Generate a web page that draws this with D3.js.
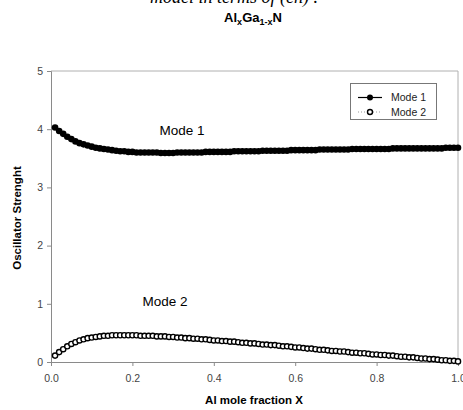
<!DOCTYPE html>
<html>
<head>
<meta charset="utf-8">
<script src="https://cdn.jsdelivr.net/npm/d3@7"></script>
<style>
  body { margin: 0; background: #fff; }
  text { font-family: "Liberation Sans", Arial, sans-serif; }
</style>
</head>
<body>
<script>
// Al mole fraction x, 0.01 .. 1.00
var xValues = [0.01,0.02,0.03,0.04,0.05,0.06,0.07,0.08,0.09,0.10,
  0.11,0.12,0.13,0.14,0.15,0.16,0.17,0.18,0.19,0.20,
  0.21,0.22,0.23,0.24,0.25,0.26,0.27,0.28,0.29,0.30,
  0.31,0.32,0.33,0.34,0.35,0.36,0.37,0.38,0.39,0.40,
  0.41,0.42,0.43,0.44,0.45,0.46,0.47,0.48,0.49,0.50,
  0.51,0.52,0.53,0.54,0.55,0.56,0.57,0.58,0.59,0.60,
  0.61,0.62,0.63,0.64,0.65,0.66,0.67,0.68,0.69,0.70,
  0.71,0.72,0.73,0.74,0.75,0.76,0.77,0.78,0.79,0.80,
  0.81,0.82,0.83,0.84,0.85,0.86,0.87,0.88,0.89,0.90,
  0.91,0.92,0.93,0.94,0.95,0.96,0.97,0.98,0.99,1.00];

var mode1 = [4.03,3.97,3.92,3.87,3.83,3.79,3.76,3.74,3.72,3.70,
  3.68,3.67,3.66,3.65,3.64,3.63,3.62,3.62,3.61,3.61,
  3.60,3.60,3.60,3.60,3.60,3.60,3.59,3.59,3.59,3.59,
  3.60,3.60,3.60,3.60,3.60,3.60,3.60,3.61,3.61,3.61,
  3.61,3.61,3.61,3.61,3.62,3.62,3.62,3.62,3.62,3.62,
  3.62,3.63,3.63,3.63,3.63,3.63,3.63,3.63,3.64,3.64,
  3.64,3.64,3.64,3.64,3.64,3.65,3.65,3.65,3.65,3.65,
  3.65,3.65,3.65,3.66,3.66,3.66,3.66,3.66,3.66,3.66,
  3.66,3.66,3.66,3.67,3.67,3.67,3.67,3.67,3.67,3.67,
  3.67,3.67,3.67,3.67,3.67,3.67,3.68,3.68,3.68,3.68];

var mode2 = [0.11,0.17,0.22,0.27,0.31,0.34,0.37,0.39,0.41,0.42,
  0.43,0.44,0.45,0.45,0.46,0.46,0.46,0.46,0.46,0.46,
  0.46,0.45,0.45,0.45,0.45,0.44,0.44,0.44,0.43,0.43,
  0.42,0.42,0.41,0.41,0.40,0.40,0.39,0.39,0.38,0.37,
  0.37,0.36,0.36,0.35,0.35,0.34,0.33,0.33,0.32,0.32,
  0.31,0.30,0.30,0.29,0.29,0.28,0.27,0.27,0.26,0.25,
  0.25,0.24,0.23,0.23,0.22,0.21,0.21,0.20,0.19,0.19,
  0.18,0.18,0.17,0.16,0.16,0.15,0.15,0.14,0.13,0.13,
  0.12,0.12,0.11,0.11,0.10,0.09,0.09,0.08,0.08,0.07,
  0.06,0.06,0.05,0.05,0.04,0.03,0.03,0.02,0.02,0.01];

var xTicks = [0, 0.2, 0.4, 0.6, 0.8, 1.0];
var yTicks = [0, 1, 2, 3, 4, 5];
var seriesNames = ["Mode 1", "Mode 2"];

var width = 463;
var height = 410;

var plotLeft = 51, plotRight = 458, plotTop = 71, plotBottom = 362;

var svg = d3.select("body")
            .append("svg")
            .attr("width", width)
            .attr("height", height);

var xScale = d3.scaleLinear()
               .domain([0, 1])
               .range([plotLeft, plotRight]);

var yScale = d3.scaleLinear()
               .domain([0, 5])
               .range([plotBottom, plotTop]);

// cut-off text line from the page above the figure
svg.append("text")
   .attr("x", 234)
   .attr("y", 3)
   .attr("text-anchor", "middle")
   .style("font-family", "'Liberation Serif', 'Times New Roman', serif")
   .style("font-style", "italic")
   .style("font-size", "18px")
   .text("model in terms of (eh) .");

// title Al_xGa_1-x N
var title = svg.append("text")
   .attr("x", 253)
   .attr("y", 22)
   .attr("text-anchor", "middle")
   .style("font-weight", "bold")
   .style("font-size", "13px");
title.append("tspan").text("Al");
title.append("tspan").attr("dy", 3).style("font-size", "9px").text("x");
title.append("tspan").attr("dy", -3).text("Ga");
title.append("tspan").attr("dy", 3).style("font-size", "9px").text("1-x");
title.append("tspan").attr("dy", -3).text("N");

// frame (top and right)
svg.append("path")
   .attr("d", "M" + plotLeft + "," + plotTop + "H" + plotRight + "V" + plotBottom)
   .attr("fill", "none")
   .attr("stroke", "#b0b0b0")
   .attr("stroke-width", 1);

var xAxis = d3.axisBottom(xScale)
              .tickValues(xTicks)
              .tickSize(4)
              .tickFormat(d3.format(".1f"));

var yAxis = d3.axisLeft(yScale)
              .tickValues(yTicks)
              .tickSize(4)
              .tickFormat(d3.format("d"));

var gx = svg.append("g")
   .attr("transform", "translate(0," + plotBottom + ")")
   .call(xAxis);

var gy = svg.append("g")
   .attr("transform", "translate(" + plotLeft + ",0)")
   .call(yAxis);

[gx, gy].forEach(function(g) {
  g.select(".domain").attr("stroke", "#8a8a8a");
  g.selectAll(".tick line").attr("stroke", "#8a8a8a");
  g.selectAll(".tick text")
   .attr("fill", "#444")
   .style("font-size", "10.5px")
   .style("font-family", "'Liberation Sans', Arial, sans-serif");
});
gx.selectAll(".tick text").attr("dy", "1.2em");
gy.selectAll(".tick text").attr("x", -8);

// axis titles
svg.append("text")
   .attr("x", 254)
   .attr("y", 404)
   .attr("text-anchor", "middle")
   .style("font-weight", "bold")
   .style("font-size", "11.5px")
   .text("Al mole fraction X");

svg.append("text")
   .attr("transform", "translate(21,218) rotate(-90)")
   .attr("text-anchor", "middle")
   .style("font-weight", "bold")
   .style("font-size", "11.5px")
   .text("Oscillator Strenght");

// series
var pts1 = xValues.map(function(x, i) { return [x, mode1[i]]; });
var pts2 = xValues.map(function(x, i) { return [x, mode2[i]]; });

svg.append("g")
   .selectAll("circle")
   .data(pts2)
   .enter()
   .append("circle")
   .attr("cx", function(d) { return xScale(d[0]); })
   .attr("cy", function(d) { return yScale(d[1]); })
   .attr("r", 2.6)
   .attr("fill", "#fff")
   .attr("stroke", "#000")
   .attr("stroke-width", 1.4);

svg.append("g")
   .selectAll("circle")
   .data(pts1)
   .enter()
   .append("circle")
   .attr("cx", function(d) { return xScale(d[0]); })
   .attr("cy", function(d) { return yScale(d[1]); })
   .attr("r", 3.3)
   .attr("fill", "#000");

// in-plot labels
svg.append("text")
   .attr("x", 182)
   .attr("y", 135)
   .attr("text-anchor", "middle")
   .style("font-size", "13.5px")
   .text(seriesNames[0]);

svg.append("text")
   .attr("x", 165)
   .attr("y", 306)
   .attr("text-anchor", "middle")
   .style("font-size", "13.5px")
   .text(seriesNames[1]);

// legend
var legend = svg.append("g");
legend.append("rect")
   .attr("x", 350.5)
   .attr("y", 83.5)
   .attr("width", 86)
   .attr("height", 36)
   .attr("fill", "#fff")
   .attr("stroke", "#777");

legend.append("line")
   .attr("x1", 358).attr("x2", 382)
   .attr("y1", 97.5).attr("y2", 97.5)
   .attr("stroke", "#000").attr("stroke-width", 1.2);
legend.append("circle")
   .attr("cx", 370).attr("cy", 97.5).attr("r", 3)
   .attr("fill", "#000");

legend.append("line")
   .attr("x1", 358).attr("x2", 382)
   .attr("y1", 112).attr("y2", 112)
   .attr("stroke", "#999").attr("stroke-width", 1)
   .attr("stroke-dasharray", "1,2");
legend.append("circle")
   .attr("cx", 370).attr("cy", 112).attr("r", 2.5)
   .attr("fill", "#fff").attr("stroke", "#000").attr("stroke-width", 1.4);

legend.selectAll("text.lg")
   .data(seriesNames)
   .enter()
   .append("text")
   .attr("class", "lg")
   .attr("x", 391)
   .attr("y", function(d, i) { return 101 + i * 14.5; })
   .style("font-size", "10.5px")
   .attr("fill", "#222")
   .text(function(d) { return d; });
</script>
</body>
</html>
